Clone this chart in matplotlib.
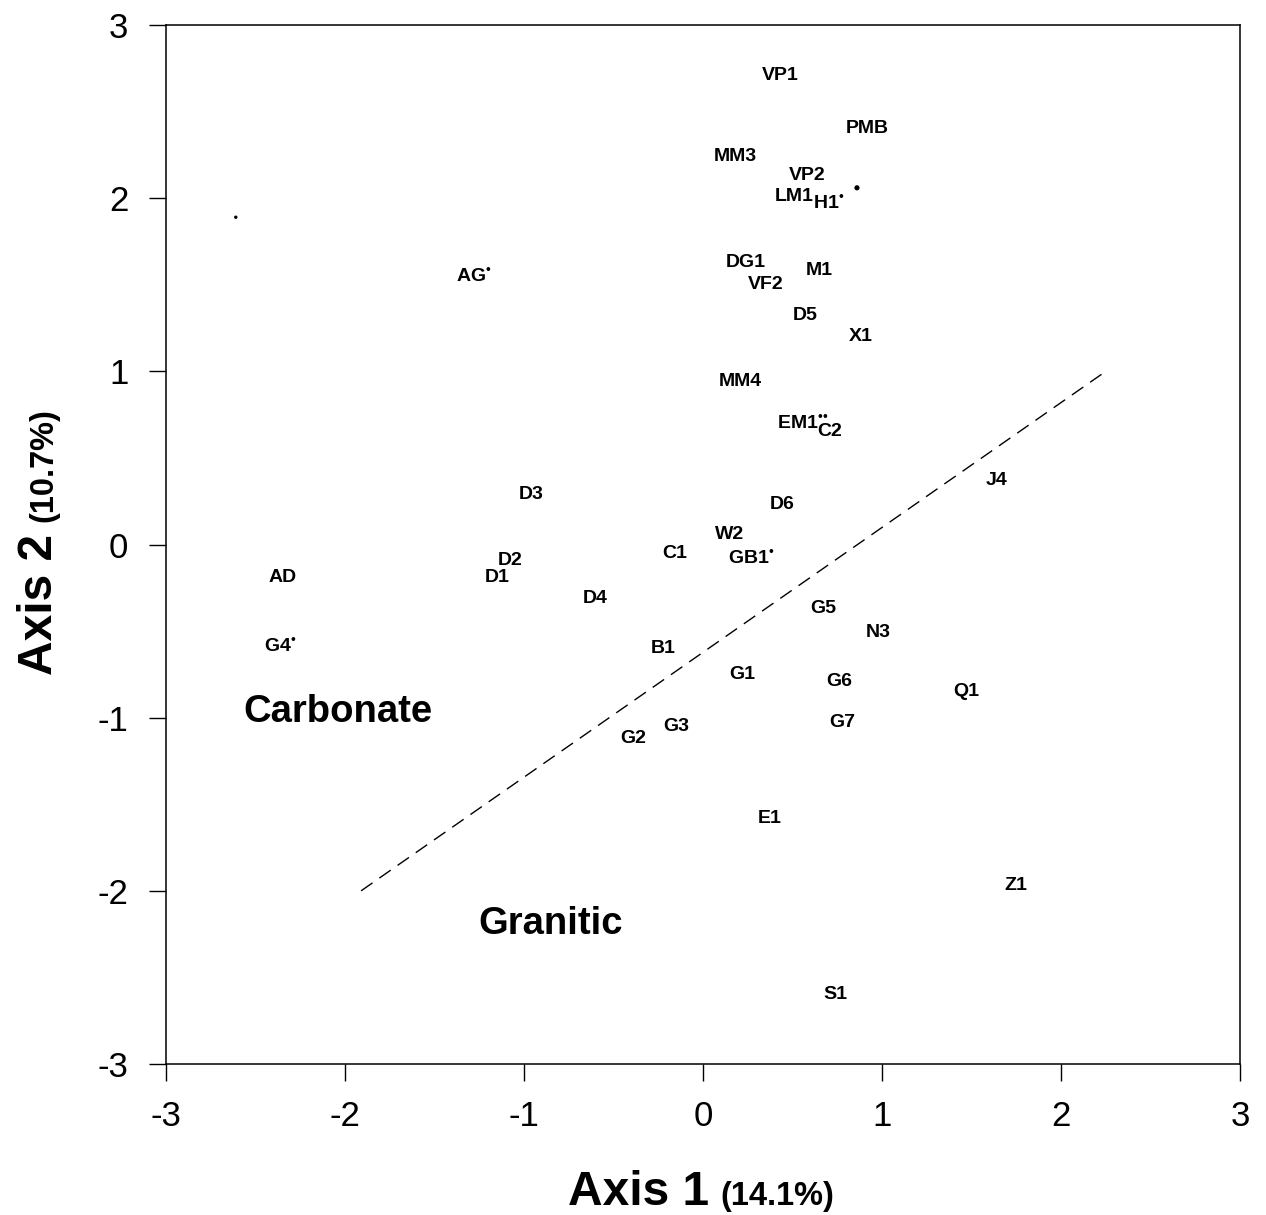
import matplotlib.pyplot as plt

plt.rcParams['font.family'] = ['Liberation Sans', 'DejaVu Sans']
plt.rcParams['axes.unicode_minus'] = False
plt.rcParams['mathtext.fontset'] = 'custom'
plt.rcParams['mathtext.rm'] = 'Liberation Sans'
plt.rcParams['mathtext.bf'] = 'Liberation Sans:bold'

DOT = '$^{\\mathrm{\u2022}}$'

# site scores on the first two ordination axes
site_names = ['VP1', 'PMB', 'MM3', 'VP2', 'LM1', 'H1' + DOT, 'AG' + DOT,
              'DG1', 'VF2', 'M1', 'D5', 'X1', 'MM4', 'EM1' + DOT + DOT, 'C2',
              'D3', 'J4', 'D6', 'W2', 'C1', 'GB1' + DOT, 'D2', 'D1', 'AD',
              'D4', 'G5', 'N3', 'G4' + DOT, 'B1', 'G1', 'G6', 'Q1', 'G7',
              'G3', 'G2', 'E1', 'Z1', 'S1']
axis1_scores = [0.43, 0.92, 0.18, 0.58, 0.51, 0.70, -1.28,
                0.24, 0.35, 0.65, 0.57, 0.88, 0.21, 0.56, 0.71,
                -0.96, 1.64, 0.44, 0.15, -0.16, 0.27, -1.08, -1.15, -2.35,
                -0.60, 0.67, 0.98, -2.36, -0.22, 0.22, 0.76, 1.47, 0.78,
                -0.15, -0.39, 0.37, 1.75, 0.74]
axis2_scores = [2.71, 2.40, 2.24, 2.13, 2.01, 1.97, 1.55,
                1.63, 1.50, 1.58, 1.32, 1.20, 0.94, 0.70, 0.65,
                0.29, 0.37, 0.23, 0.06, -0.05, -0.08, -0.09, -0.19, -0.19,
                -0.31, -0.37, -0.51, -0.59, -0.60, -0.75, -0.79, -0.85, -1.03,
                -1.05, -1.12, -1.58, -1.97, -2.60]

# unlabelled sites
extra_x = [-2.61, 0.86]
extra_y = [1.89, 2.06]
extra_size = [6, 14]

# boundary between the two substrate groups
boundary_x = [-1.91, 2.25]
boundary_y = [-2.0, 1.0]

group_names = ['Carbonate', 'Granitic']
group_x = [-2.04, -0.85]
group_y = [-0.97, -2.19]

fig = plt.figure(figsize=(12.66, 12.15), dpi=100)
ax = fig.add_axes([0.1311, 0.1243, 0.8484, 0.8551])

for name, x, y in zip(site_names, axis1_scores, axis2_scores):
    ax.text(x, y, name, ha='center', va='center', fontsize=14,
            fontweight='bold')

ax.scatter(extra_x, extra_y, s=extra_size, color='black', linewidths=0)

ax.plot(boundary_x, boundary_y, color='black', lw=1.0,
        linestyle=(0, (10, 6)))

for name, x, y in zip(group_names, group_x, group_y):
    ax.text(x, y, name, ha='center', va='center', fontsize=27.5,
            fontweight='bold')

ax.set_xlim(-3, 3)
ax.set_ylim(-3, 3)
ax.set_xticks([-3, -2, -1, 0, 1, 2, 3])
ax.set_yticks([-3, -2, -1, 0, 1, 2, 3])
ax.tick_params(direction='out', length=12, width=1.0, labelsize=25)
ax.tick_params(axis='x', pad=14)
ax.tick_params(axis='y', pad=15)
for spine in ax.spines.values():
    spine.set_linewidth(1.1)

fig.text(709 / 1266, 1 - 1205 / 1215, 'Axis 1', ha='right', va='baseline',
         fontsize=34.5, fontweight='bold')
fig.text(720 / 1266, 1 - 1205 / 1215, '(14.1%)', ha='left', va='baseline',
         fontsize=23.5, fontweight='bold')

fig.text(52 / 1266, 1 - 675 / 1215, 'Axis 2', ha='left', va='baseline',
         rotation=90, rotation_mode='anchor', fontsize=34.5, fontweight='bold')
fig.text(52 / 1266, 1 - 522 / 1215, '(10.7%)', ha='left', va='baseline',
         rotation=90, rotation_mode='anchor', fontsize=23.5, fontweight='bold')

fig.savefig('out.png', dpi=100)
